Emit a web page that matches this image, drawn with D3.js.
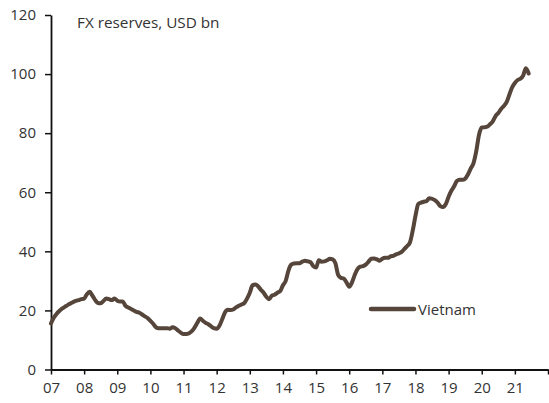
<!DOCTYPE html>
<html><head><meta charset="utf-8">
<script src="https://cdn.jsdelivr.net/npm/d3@7"></script>
<style>
html,body{margin:0;padding:0;background:#fff;}
svg text{font-family:"Open Sans","Noto Sans",sans-serif;fill:#333;}
</style></head>
<body>
<svg id="chart" width="549" height="403"></svg>
<script>
// Monthly FX reserves (USD bn), Jan 2007 onward
const startYear = 2007;
const values2007 = [15.6,17.5,18.8,19.8,20.6,21.2,21.8,22.3,22.8,23.2,23.5,23.8];
const values2008 = [24.0,25.5,26.3,25.0,23.5,22.5,22.4,23.2,24.0,23.8,23.5,24.0];
const values2009 = [23.3,23.0,23.0,21.5,21.0,20.5,20.0,19.5,19.2,18.6,18.0,17.4];
const values2010 = [16.5,15.5,14.3,14.0,14.0,14.0,14.0,13.8,14.3,14.0,13.2,12.5];
const values2011 = [12.0,12.0,12.3,13.0,14.2,15.8,17.3,16.5,15.8,15.3,14.6,14.0];
const values2012 = [13.8,14.8,17.0,19.3,20.2,20.1,20.3,21.0,21.6,22.0,22.5,24.0];
const values2013 = [26.0,28.5,28.8,28.2,27.0,26.0,24.6,23.8,25.0,25.3,26.0,26.5];
const values2014 = [28.5,30.0,33.5,35.5,35.9,36.0,36.0,36.5,36.8,36.6,36.3,35.0];
const values2015 = [34.5,37.0,36.5,36.6,37.0,37.5,37.3,36.0,32.0,31.0,30.8,29.5];
const values2016 = [28.0,29.5,32.0,34.0,34.8,35.0,35.5,36.5,37.5,37.6,37.3,36.8];
const values2017 = [37.5,37.8,37.8,38.3,38.5,39.0,39.3,39.8,40.8,41.8,43.0,47.0];
const values2018 = [52.0,56.0,56.5,56.8,57.0,58.0,57.8,57.3,56.5,55.3,55.0,56.0];
const values2019 = [58.5,60.5,62.0,63.8,64.2,64.2,64.6,66.0,68.0,69.8,73.8,79.4];
const values2020 = [81.9,82.0,82.2,83.0,84.0,85.8,86.8,88.2,89.2,90.5,93.0,95.5];
const values2021 = [97.0,98.0,98.4,99.5,102.0,100.2];
const seriesName = "Vietnam";
const title = "FX reserves, USD bn";
const yTicks = [0,20,40,60,80,100,120];
const xTickYears = d3.range(2007, 2023);
const xTickLabels = ["07","08","09","10","11","12","13","14","15","16","17","18","19","20","21",""];

const values = [].concat(values2007,values2008,values2009,values2010,values2011,values2012,
  values2013,values2014,values2015,values2016,values2017,values2018,values2019,values2020,values2021);
const data = values.map((v,i)=>({t: startYear + i/12, v}));

const svg = d3.select("#chart");
const mLeft = 51, mRight = 548, mTop = 15, mBottom = 369.5;
const x = d3.scaleLinear().domain([2007, 2022]).range([mLeft, mRight]);
const y = d3.scaleLinear().domain([0, 120]).range([mBottom, mTop]);
const color = "#55453a";

// Y axis
const yAxis = svg.append("g").attr("transform", `translate(${mLeft},0)`)
  .call(d3.axisLeft(y).tickValues(yTicks).tickSize(6).tickPadding(9).tickSizeOuter(0));
yAxis.select(".domain").attr("stroke","#111").attr("stroke-width",1.8);
yAxis.selectAll(".tick line").attr("stroke","#111").attr("stroke-width",1.5);
yAxis.selectAll("text").style("font-size","15px").attr("fill","#333");

// X axis
const xAxis = svg.append("g").attr("transform", `translate(0,${mBottom})`)
  .call(d3.axisBottom(x).tickValues(xTickYears).tickFormat((d,i)=>xTickLabels[i]).tickSize(5).tickPadding(8).tickSizeOuter(0));
xAxis.select(".domain").attr("stroke","#111").attr("stroke-width",1.8);
xAxis.selectAll(".tick line").attr("stroke","#111").attr("stroke-width",1.5);
xAxis.selectAll("text").style("font-size","15px").attr("fill","#333");

// Line
const line = d3.line().x(d=>x(d.t)).y(d=>y(d.v)).curve(d3.curveMonotoneX);
svg.append("path").datum(data).attr("d", line).attr("fill","none")
  .attr("stroke", color).attr("stroke-width", 4).attr("stroke-linejoin","round").attr("stroke-linecap","round");

// Title
svg.append("text").attr("x", 77).attr("y", 28).style("font-size","15.3px").text(title);

// Legend
svg.append("line").attr("x1",371).attr("x2",414).attr("y1",309).attr("y2",309)
  .attr("stroke",color).attr("stroke-width",4.5).attr("stroke-linecap","round");
svg.append("text").attr("x",418).attr("y",314.5).style("font-size","15px").text(seriesName);
</script>
</body></html>
